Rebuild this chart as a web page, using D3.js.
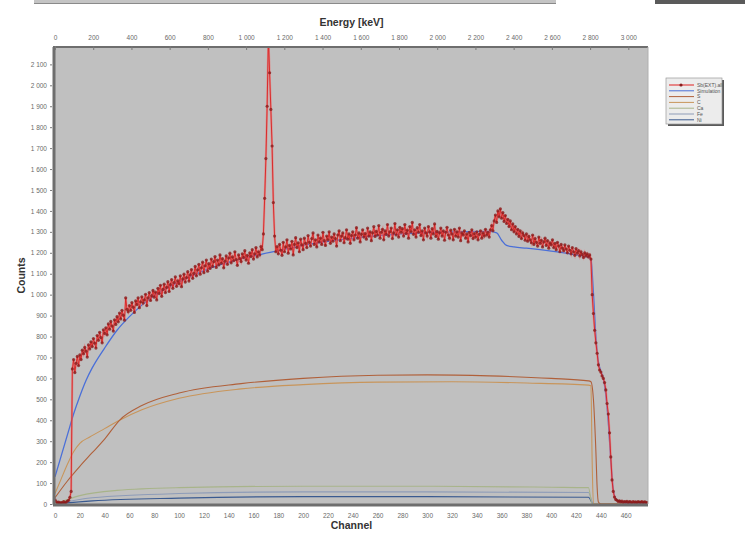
<!DOCTYPE html>
<html><head><meta charset="utf-8">
<script src="https://cdn.jsdelivr.net/npm/d3@7"></script>
<style>body{margin:0;background:#fff;}svg{display:block;font-family:"Liberation Sans",Arial,sans-serif;}</style>
</head><body><svg id="c" width="745" height="536"></svg>
<script>
// ---- data ----
const measured = [
20,12,6,9,4,7,5,11,6,9,
14,18,32,60,645,690,628,672,705,661,
712,690,735,718,748,730,702,760,741,775,
752,790,768,745,805,782,820,795,770,832,
815,842,808,860,835,872,850,826,880,858,
895,870,912,884,925,902,878,985,930,918,
948,925,962,940,915,970,952,985,938,966,
990,960,975,1002,948,985,1010,972,995,1020,
988,1012,975,1030,1005,1045,992,1025,1050,1010,
1035,1062,1015,1048,1072,1030,1058,1085,1040,1066,
1052,1090,1038,1075,1098,1060,1082,1110,1065,1095,
1120,1078,1102,1135,1090,1118,1145,1098,1128,1155,
1105,1138,1165,1112,1148,1125,1170,1135,1158,1182,
1130,1165,1142,1190,1150,1172,1128,1160,1185,1145,
1175,1198,1152,1180,1162,1205,1168,1140,1190,1172,
1158,1195,1178,1210,1165,1188,1150,1200,1182,1215,
1170,1195,1225,1180,1205,1190,1230,1215,1290,1460,
1650,1900,2230,2060,1885,1710,1440,1280,1205,1230,
1195,1240,1212,1188,1250,1205,1228,1262,1198,1235,
1218,1255,1190,1240,1272,1225,1248,1205,1265,1238,
1215,1270,1245,1225,1282,1250,1232,1268,1295,1240,
1262,1228,1285,1252,1270,1240,1298,1258,1235,1280,
1262,1300,1245,1275,1255,1290,1268,1232,1285,1305,
1258,1280,1295,1248,1272,1310,1265,1290,1245,1282,
1300,1262,1285,1320,1270,1295,1252,1288,1310,1275,
1292,1265,1318,1280,1300,1258,1295,1325,1278,1302,
1285,1330,1270,1298,1312,1262,1305,1288,1335,1280,
1300,1318,1268,1295,1340,1285,1310,1275,1322,1298,
1315,1280,1335,1292,1308,1270,1325,1300,1345,1288,
1310,1275,1320,1298,1335,1282,1305,1262,1318,1295,
1280,1325,1300,1270,1315,1290,1338,1278,1302,1265,
1295,1318,1280,1305,1260,1298,1322,1285,1270,1308,
1290,1262,1312,1280,1300,1275,1318,1258,1295,1285,
1305,1270,1290,1252,1298,1282,1310,1268,1292,1275,
1300,1262,1288,1305,1270,1295,1280,1312,1285,1298,
1275,1310,1330,1305,1352,1380,1345,1400,1372,1410,
1365,1392,1350,1378,1340,1360,1325,1352,1310,1338,
1300,1325,1290,1312,1278,1305,1268,1295,1282,1260,
1290,1255,1278,1262,1248,1285,1240,1268,1250,1232,
1275,1245,1260,1228,1252,1270,1235,1258,1222,1248,
1238,1262,1225,1245,1215,1250,1232,1205,1240,1222,
1210,1238,1218,1200,1232,1212,1195,1225,1205,1188,
1220,1198,1210,1185,1205,1192,1178,1200,1185,1195,
1180,1190,1170,1000,910,830,770,720,665,640,
630,612,600,580,545,480,430,340,225,115,
60,33,22,18,12,15,10,14,8,12,
9,13,7,11,10,6,12,8,10,7,
11,9,8,12,7,10,9,6,8
];
const simChannels = [0,5,10,15,20,25,30,40,50,60,70,80,100,120,140,160,180,200,240,280,320,350,356,360,364,370,380,400,420,430,432,434,436,438,440,442,444,446,448,450,452,455,460,470,478];
const simValues   = [130,230,330,430,515,590,650,745,830,895,950,995,1060,1115,1155,1185,1210,1235,1270,1290,1300,1302,1295,1260,1235,1228,1222,1208,1190,1178,1170,1010,800,680,635,600,520,390,210,70,25,10,6,5,5];

const compAChannels = [0,10,20,30,40,52,70,100,150,200,260,300,350,400,430,432,434,436,437,438,440,478];
const compAValues   = [30,110,180,245,310,400,470,530,575,600,615,617,612,600,588,584,500,250,80,10,0,0];
const compBChannels = [0,5,10,15,20,28,40,52,70,100,150,200,260,320,380,430,432,433,434,478];
const compBValues   = [50,120,190,250,290,320,360,400,450,505,550,570,582,584,578,568,565,200,0,0];
const compCChannels = [0,20,50,100,200,300,400,430,433,478];
const compCValues   = [0,40,65,78,85,85,80,78,0,0];
const compDChannels = [0,30,100,200,300,430,434,478];
const compDValues   = [0,30,50,58,58,55,0,0];
const compEChannels = [0,30,100,200,300,430,434,478];
const compEValues   = [0,15,28,35,35,32,0,0];

const yTicks = d3.range(0, 2101, 100);
const xTicks = d3.range(0, 461, 20);
const eTicks = d3.range(0, 3001, 200);
const legendLabels = ["Sb(EXT).all","Simulation","S","C","Ca","Fe","Ni"];
const legendColors = ["#e02020","#4a6fd8","#b0603a","#c8955a","#a8b48a","#8e9cb8","#3a5a90"];

// ---- layout ----
const svg = d3.select("#c");
const L = 55, R = 648, T = 47, B = 504;
const x = d3.scaleLinear().domain([0, 478]).range([L, R]);
const y = d3.scaleLinear().domain([0, 2183]).range([B, T]);
const xe = d3.scaleLinear().domain([0, 3103]).range([L, R]);
const fmt = v => d3.format(",")(v).replace(/,/g, " ");

// artifacts at top (from cropped neighbour figure)
svg.append("rect").attr("x",34).attr("y",0).attr("width",522).attr("height",3).attr("fill","#c4c4c4");
svg.append("line").attr("x1",34).attr("x2",556).attr("y1",3.5).attr("y2",3.5).attr("stroke","#8a8a8a");
svg.append("rect").attr("x",655).attr("y",0).attr("width",90).attr("height",4).attr("fill","#5a5a5a");

// plot background
svg.append("rect").attr("x",L).attr("y",T).attr("width",R-L).attr("height",B-T).attr("fill","#c0c0c0");
svg.append("defs").append("clipPath").attr("id","clip").append("rect")
  .attr("x",L).attr("y",T).attr("width",R-L).attr("height",B-T);
const g = svg.append("g").attr("clip-path","url(#clip)");

function lineOf(ch, vals){
  return d3.line().x((d,i)=>x(ch[i])).y(d=>y(d)).curve(d3.curveMonotoneX)(vals);
}
// components
[[compEChannels,compEValues,legendColors[6]],[compDChannels,compDValues,legendColors[5]],
 [compCChannels,compCValues,legendColors[4]],[compBChannels,compBValues,legendColors[3]],
 [compAChannels,compAValues,legendColors[2]]].forEach(([c,v,col])=>{
  g.append("path").attr("d",lineOf(c,v)).attr("fill","none").attr("stroke",col).attr("stroke-width",1.1);
});
// simulation
g.append("path").attr("d",lineOf(simChannels,simValues)).attr("fill","none")
  .attr("stroke",legendColors[1]).attr("stroke-width",1.3);

// measured
const chans = measured.map((d,i)=>i);
g.append("path").attr("d",d3.line().x((d,i)=>x(i)).y(d=>y(d))(measured))
  .attr("fill","none").attr("stroke","#f07070").attr("stroke-width",2.2).attr("opacity",0.6);
g.append("path").attr("d",d3.line().x((d,i)=>x(i)).y(d=>y(d))(measured))
  .attr("fill","none").attr("stroke","#d82020").attr("stroke-width",0.9);
g.selectAll("circle.m").data(measured).enter().append("circle")
  .attr("cx",(d,i)=>x(i)).attr("cy",d=>y(d)).attr("r",1.6)
  .attr("fill","#8a1c1c").attr("opacity",0.8);

// frame
svg.append("line").attr("x1",L-1).attr("x2",L-1).attr("y1",T).attr("y2",B+1).attr("stroke","#6e6e6e").attr("stroke-width",3);
svg.append("line").attr("x1",L-2).attr("x2",R).attr("y1",B+1).attr("y2",B+1).attr("stroke","#6e6e6e").attr("stroke-width",3);
svg.append("line").attr("x1",L-2).attr("x2",R).attr("y1",T).attr("y2",T).attr("stroke","#6e6e6e").attr("stroke-width",2);
svg.append("line").attr("x1",R).attr("x2",R).attr("y1",T).attr("y2",B).attr("stroke","#b0b0b0").attr("stroke-width",1);

// axes
const ya = svg.append("g").attr("transform",`translate(${L-3},0)`)
  .call(d3.axisLeft(y).tickValues(yTicks).tickFormat(fmt).tickSize(2));
const xa = svg.append("g").attr("transform",`translate(0,${B+3})`)
  .call(d3.axisBottom(x).tickValues(xTicks).tickFormat(d3.format("d")).tickSize(0).tickPadding(6));
const ea = svg.append("g").attr("transform",`translate(0,${T-1})`)
  .call(d3.axisTop(xe).tickValues(eTicks).tickFormat(fmt).tickSize(-4).tickPadding(6));
[ya,xa,ea].forEach(a=>{
  a.select(".domain").remove();
  a.selectAll("text").attr("fill","#6a6a6a").attr("font-size",6.5);
  a.selectAll("line").attr("stroke","#7a7a7a");
});

// titles
svg.append("text").attr("x",(L+R)/2).attr("y",26).attr("text-anchor","middle")
  .attr("font-size",10.5).attr("font-weight","bold").attr("fill","#333").text("Energy [keV]");
svg.append("text").attr("x",(L+R)/2).attr("y",529).attr("text-anchor","middle")
  .attr("font-size",10.5).attr("font-weight","bold").attr("fill","#333").text("Channel");
svg.append("text").attr("transform",`translate(25,${(T+B)/2}) rotate(-90)`).attr("text-anchor","middle")
  .attr("font-size",10.5).attr("font-weight","bold").attr("fill","#333").text("Counts");

// legend
const lg = svg.append("g");
lg.append("rect").attr("x",668).attr("y",80).attr("width",56).attr("height",46).attr("fill","#5a5a5a");
lg.append("rect").attr("x",666).attr("y",78).attr("width",56).attr("height",46).attr("fill","#ececec").attr("stroke","#9a9a9a").attr("stroke-width",0.7);
legendLabels.forEach((lab,i)=>{
  const yy = 85 + i*5.8;
  lg.append("line").attr("x1",669).attr("x2",694).attr("y1",yy).attr("y2",yy).attr("stroke",legendColors[i]).attr("stroke-width",1);
  if(i===0) lg.append("circle").attr("cx",681).attr("cy",yy).attr("r",1.6).attr("fill","#8a1c1c");
  lg.append("text").attr("x",697).attr("y",yy+1.8).attr("font-size",5).attr("fill","#555").text(lab);
});
</script></body></html>
